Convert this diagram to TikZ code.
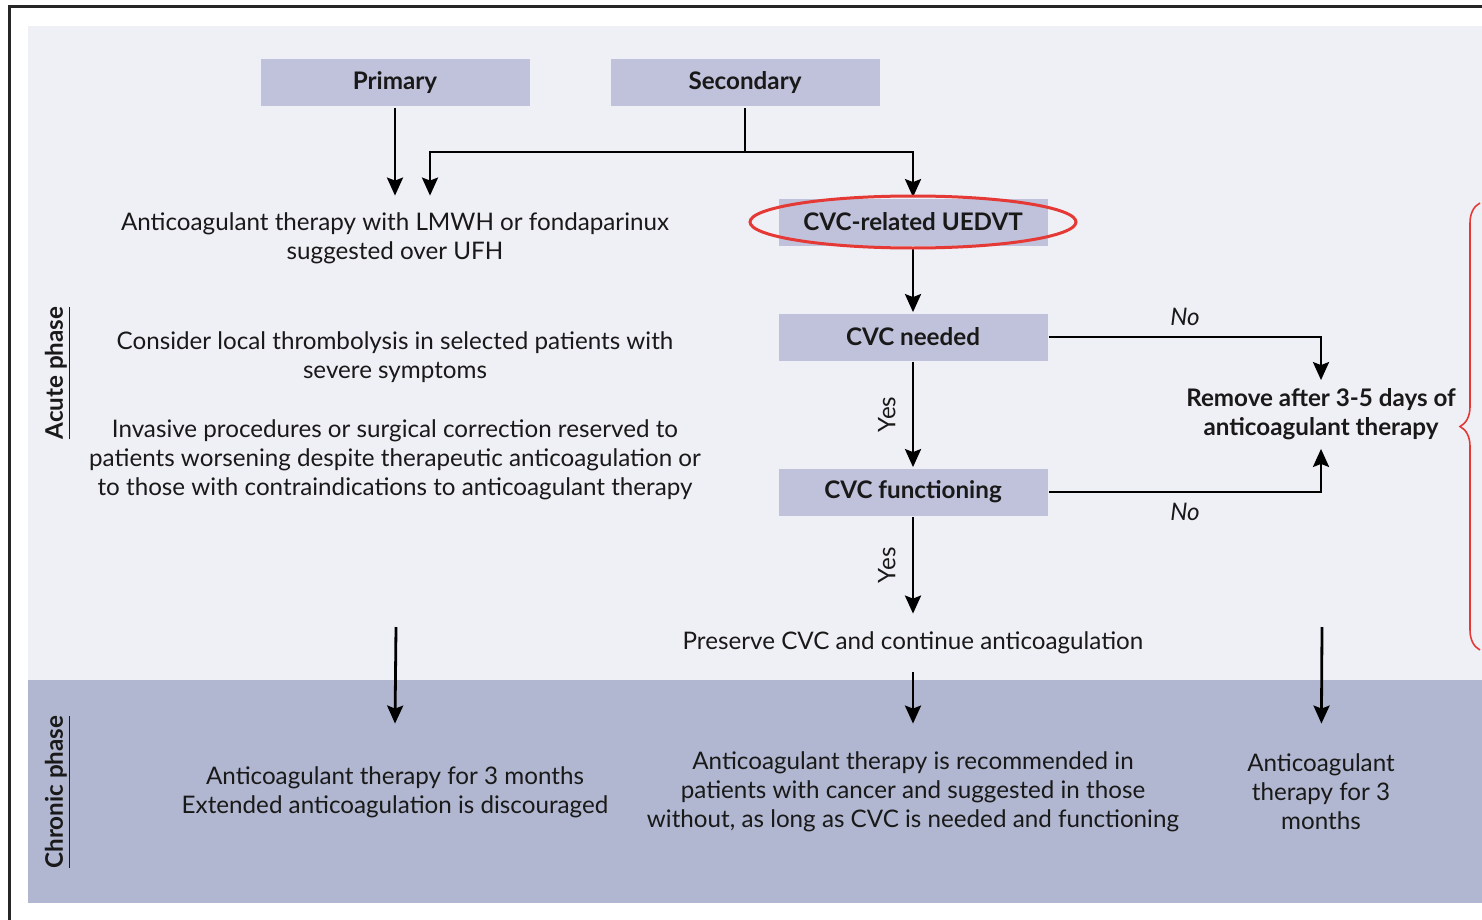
\documentclass[tikz,border=0pt]{standalone}
\usepackage{fontspec}
\setmainfont{Lato}
\usepackage{tikz}
\usetikzlibrary{arrows.meta}
\usetikzlibrary{calc}
\usetikzlibrary{decorations.pathreplacing}

\definecolor{bgacute}{RGB}{239,239,246}
\definecolor{bgchronic}{RGB}{177,183,208}
\definecolor{boxfill}{RGB}{192,193,218}
\definecolor{markred}{RGB}{229,57,53}
\newcommand\dgsize{\fontsize{12.1}{14.5}\selectfont}

\begin{document}
\begin{tikzpicture}[x=0.5pt,y=-0.5pt,->,>={Stealth[length=9pt,width=8pt,inset=1.5pt]},line width=1.4pt,
	every node/.style={font=\dgsize,text=black!90},
	box/.style={fill=boxfill,minimum width=134.5pt,minimum height=23.5pt,inner sep=0pt,font=\dgsize\bfseries},
	txt/.style={align=center,inner sep=0pt},
	res/.style={align=center,inner sep=0pt,minimum height=67pt},
	phase/.style={rotate=90,font=\dgsize\bfseries},
	lbl/.style={font=\dgsize\itshape,inner sep=5pt},
	yes/.style={midway,rotate=90,above,inner sep=8pt}]
			\useasboundingbox(0,0)rectangle(1482,920);
			\fill[bgacute](28,26)rectangle(1482,680);
			\fill[bgchronic](28,680)rectangle(1482,903);
			\draw[-,line width=1.5pt,black!85](9,920)--(9,7)--(1482,7);
			\node[box](prim)at(395,83){Primary};
			\node[box](sec)at(745,83){Secondary};
			\node[box](uedvt)at(913,222){CVC-related UEDVT};
			\node[box](needed)at(913,337){CVC needed};
			\node[box](func)at(913,492){CVC functioning};
			\node[txt,minimum height=41.5pt](lmwh)at(395,238.5){Anticoagulant therapy with LMWH or fondaparinux\\suggested over UFH};
			\node[txt](lysis)at(395,357.5){Consider local thrombolysis in selected patients with\\severe symptoms};
			\node[txt](invasive)at(395,459.5){Invasive procedures or surgical correction reserved to\\patients worsening despite therapeutic anticoagulation or\\to those with contraindications to anticoagulant therapy};
			\node[txt,minimum height=33pt,font=\dgsize\bfseries](remove)at(1321,414.5){Remove after 3-5 days of\\anticoagulant therapy};
			\node[txt,minimum height=28pt](preserve)at(913,643){Preserve CVC and continue anticoagulation};
			\node[res](chron1)at(395,792){Anticoagulant therapy for 3 months\\Extended anticoagulation is discouraged};
			\node[res](chron2)at(913,792){Anticoagulant therapy is recommended in\\patients with cancer and suggested in those\\without, as long as CVC is needed and functioning};
			\node[res](chron3)at(1321,792){Anticoagulant\\therapy for 3\\months};
			\node[phase](acute)at(58,373){\underline{Acute phase}};
			\node[phase](chronic)at(58,792){\underline{Chronic phase}};
			\coordinate(split)at(745,152);
			\coordinate(left)at(396,627);
			\coordinate(right)at(1322,627);
			\draw(prim)--(prim|-lmwh.north);
			\draw[-](sec)--(split);
			\draw(split)-|($(lmwh.north)+(35,0)$);
			\draw(split)-|(uedvt);
			\draw(uedvt)--(needed);
			\draw(needed)--node[yes]{Yes}(func);
			\draw(func)--node[yes]{Yes}(preserve);
			\draw(needed)-|node[pos=0.25,above,lbl]{No}(remove);
			\draw(func)-|node[pos=0.25,below,lbl]{No}(remove);
			\draw(left)--(chron1.north|-chron2.north);
			\draw(preserve)--(chron2);
			\draw(right)--(chron3);
			\draw[-,markred,line width=1.5pt](uedvt.center)ellipse[x radius=81.5pt,y radius=13pt];
			\draw[-,markred,line width=0.8pt,decorate,decoration={brace,amplitude=10pt}](1480,650)--(1480,203);
		\end{tikzpicture}
\end{document}
